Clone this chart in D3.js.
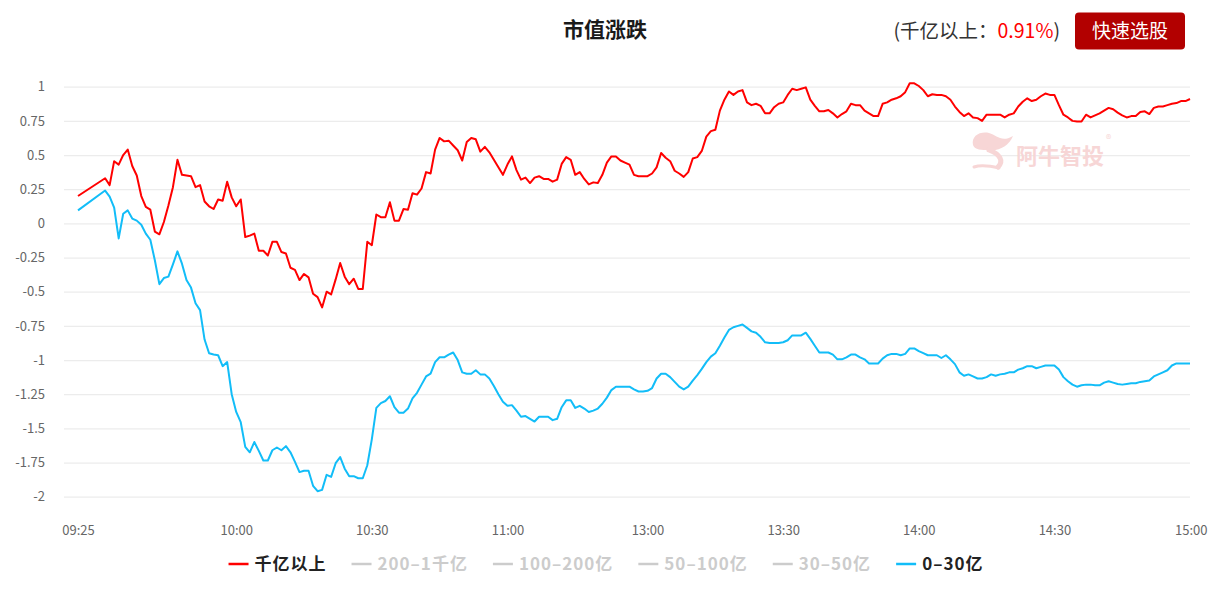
<!DOCTYPE html>
<html><head><meta charset="utf-8">
<script src="https://cdn.jsdelivr.net/npm/d3@7"></script>
<style>
html,body{margin:0;padding:0;background:#fff;}
svg{display:block;font-family:"Microsoft YaHei","Noto Sans CJK SC","Noto Sans",sans-serif;}
</style></head>
<body><svg id="c" width="1208" height="591"></svg>
<script>
// ---------------- DATA ----------------
const title = "市值涨跌";
const headerLabel = "(千亿以上：";
const headerValue = "0.91%";
const buttonText = "快速选股";
const seriesNames = ["千亿以上","200–1千亿","100–200亿","50–100亿","30–50亿","0–30亿"];
const seriesActive = [true,false,false,false,false,true];
const seriesColors = ["#ff0000","#cccccc","#cccccc","#cccccc","#cccccc","#12bdf8"];
const xTickLabels = ["09:25","10:00","10:30","11:00","13:00","13:30","14:00","14:30","15:00"];
const yTicks = [1,0.75,0.5,0.25,0,-0.25,-0.5,-0.75,-1,-1.25,-1.5,-1.75,-2];

const times = [
"09:25",
"09:31","09:32","09:33","09:34","09:35","09:36","09:37","09:38","09:39","09:40",
"09:41","09:42","09:43","09:44","09:45","09:46","09:47","09:48","09:49","09:50",
"09:51","09:52","09:53","09:54","09:55","09:56","09:57","09:58","09:59",
"10:00","10:01","10:02","10:03","10:04","10:05","10:06","10:07","10:08","10:09",
"10:10","10:11","10:12","10:13","10:14","10:15","10:16","10:17","10:18","10:19",
"10:20","10:21","10:22","10:23","10:24","10:25","10:26","10:27","10:28","10:29",
"10:30","10:31","10:32","10:33","10:34","10:35","10:36","10:37","10:38","10:39",
"10:40","10:41","10:42","10:43","10:44","10:45","10:46","10:47","10:48","10:49",
"10:50","10:51","10:52","10:53","10:54","10:55","10:56","10:57","10:58","10:59",
"11:00","11:01","11:02","11:03","11:04","11:05","11:06","11:07","11:08","11:09",
"11:10","11:11","11:12","11:13","11:14","11:15","11:16","11:17","11:18","11:19",
"11:20","11:21","11:22","11:23","11:24","11:25","11:26","11:27","11:28","11:29",
"11:30",
"13:00","13:01","13:02","13:03","13:04","13:05","13:06","13:07","13:08","13:09",
"13:10","13:11","13:12","13:13","13:14","13:15","13:16","13:17","13:18","13:19",
"13:20","13:21","13:22","13:23","13:24","13:25","13:26","13:27","13:28","13:29",
"13:30","13:31","13:32","13:33","13:34","13:35","13:36","13:37","13:38","13:39",
"13:40","13:41","13:42","13:43","13:44","13:45","13:46","13:47","13:48","13:49",
"13:50","13:51","13:52","13:53","13:54","13:55","13:56","13:57","13:58","13:59",
"14:00","14:01","14:02","14:03","14:04","14:05","14:06","14:07","14:08","14:09",
"14:10","14:11","14:12","14:13","14:14","14:15","14:16","14:17","14:18","14:19",
"14:20","14:21","14:22","14:23","14:24","14:25","14:26","14:27","14:28","14:29",
"14:30","14:31","14:32","14:33","14:34","14:35","14:36","14:37","14:38","14:39",
"14:40","14:41","14:42","14:43","14:44","14:45","14:46","14:47","14:48","14:49",
"14:50","14:51","14:52","14:53","14:54","14:55","14:56","14:57","14:58","14:59",
"15:00"
];

// 千亿以上
const bigCap = [
0.20,
0.33,0.28,0.455,0.43,0.50,0.54,0.42,0.35,0.20,0.12,
0.10,-0.06,-0.08,0.01,0.13,0.265,0.465,0.355,0.35,0.345,
0.265,0.28,0.16,0.125,0.105,0.175,0.165,0.305,0.19,
0.125,0.175,-0.10,-0.09,-0.075,-0.20,-0.20,-0.235,-0.135,-0.135,
-0.21,-0.22,-0.325,-0.34,-0.415,-0.37,-0.395,-0.515,-0.54,-0.615,
-0.50,-0.52,-0.41,-0.29,-0.39,-0.445,-0.405,-0.48,-0.48,-0.135,
-0.16,0.065,0.045,0.045,0.155,0.02,0.02,0.105,0.10,0.22,
0.21,0.255,0.375,0.365,0.54,0.625,0.60,0.605,0.57,0.535,
0.46,0.595,0.625,0.615,0.525,0.56,0.52,0.465,0.41,0.355,
0.43,0.49,0.39,0.32,0.335,0.295,0.335,0.345,0.325,0.325,
0.305,0.32,0.435,0.485,0.465,0.355,0.375,0.325,0.285,0.30,
0.295,0.355,0.445,0.49,0.49,0.46,0.445,0.43,0.355,0.345,
0.345,
0.345,0.365,0.41,0.515,0.48,0.455,0.385,0.365,0.34,0.375,
0.475,0.485,0.53,0.635,0.675,0.685,0.825,0.905,0.965,0.94,
0.965,0.975,0.885,0.865,0.875,0.86,0.805,0.805,0.85,0.875,
0.885,0.94,0.985,0.975,0.985,0.995,0.905,0.86,0.82,0.82,
0.83,0.805,0.775,0.80,0.82,0.875,0.865,0.865,0.825,0.805,
0.785,0.785,0.875,0.885,0.905,0.915,0.93,0.96,1.025,1.025,
1.005,0.975,0.93,0.945,0.94,0.94,0.93,0.905,0.855,0.815,
0.785,0.805,0.775,0.77,0.75,0.795,0.795,0.795,0.795,0.775,
0.795,0.805,0.855,0.89,0.915,0.895,0.905,0.93,0.95,0.94,
0.94,0.865,0.795,0.775,0.75,0.745,0.745,0.795,0.775,0.79,
0.805,0.825,0.845,0.835,0.81,0.79,0.775,0.785,0.785,0.815,
0.82,0.80,0.845,0.855,0.855,0.865,0.875,0.88,0.895,0.895,
0.91
];

// 0-30亿
const smallCap = [
0.095,
0.24,0.195,0.115,-0.11,0.07,0.095,0.035,0.02,-0.01,-0.075,
-0.12,-0.27,-0.445,-0.40,-0.39,-0.30,-0.205,-0.295,-0.415,-0.47,
-0.585,-0.635,-0.85,-0.95,-0.96,-0.965,-1.045,-1.015,-1.25,
-1.38,-1.455,-1.635,-1.675,-1.60,-1.665,-1.735,-1.735,-1.66,-1.64,
-1.66,-1.63,-1.675,-1.745,-1.82,-1.81,-1.81,-1.92,-1.96,-1.95,
-1.84,-1.855,-1.755,-1.71,-1.795,-1.85,-1.85,-1.865,-1.865,-1.77,
-1.58,-1.35,-1.315,-1.30,-1.265,-1.345,-1.385,-1.385,-1.355,-1.28,
-1.24,-1.18,-1.12,-1.10,-1.015,-0.98,-0.98,-0.96,-0.945,-1.00,
-1.09,-1.10,-1.10,-1.075,-1.105,-1.105,-1.135,-1.19,-1.25,-1.305,
-1.335,-1.33,-1.37,-1.415,-1.41,-1.43,-1.45,-1.415,-1.415,-1.415,
-1.44,-1.43,-1.345,-1.295,-1.295,-1.35,-1.335,-1.355,-1.38,-1.37,
-1.355,-1.32,-1.275,-1.22,-1.195,-1.195,-1.195,-1.195,-1.215,-1.23,
-1.23,
-1.225,-1.205,-1.135,-1.10,-1.10,-1.125,-1.16,-1.195,-1.215,-1.195,
-1.15,-1.11,-1.065,-1.015,-0.975,-0.95,-0.895,-0.835,-0.78,-0.76,
-0.75,-0.74,-0.765,-0.79,-0.80,-0.83,-0.87,-0.875,-0.875,-0.875,
-0.87,-0.855,-0.82,-0.82,-0.82,-0.80,-0.845,-0.895,-0.945,-0.945,
-0.945,-0.96,-0.995,-0.995,-0.98,-0.96,-0.96,-0.98,-0.995,-1.025,
-1.025,-1.025,-0.99,-0.965,-0.955,-0.955,-0.965,-0.955,-0.915,-0.915,
-0.935,-0.95,-0.965,-0.965,-0.965,-0.985,-0.965,-0.995,-1.03,-1.09,
-1.115,-1.105,-1.12,-1.135,-1.135,-1.125,-1.105,-1.115,-1.105,-1.10,
-1.09,-1.09,-1.07,-1.06,-1.045,-1.045,-1.06,-1.05,-1.04,-1.04,
-1.04,-1.07,-1.125,-1.155,-1.18,-1.195,-1.185,-1.18,-1.18,-1.185,
-1.185,-1.165,-1.155,-1.165,-1.175,-1.18,-1.175,-1.17,-1.17,-1.16,
-1.155,-1.15,-1.12,-1.105,-1.09,-1.075,-1.04,-1.025,-1.025,-1.025,
-1.025
];

// ---------------- CHART ----------------
const svg = d3.select("#c");
const gridLeft = 64, gridRight = 1190;
const FONT = '"Microsoft YaHei","Noto Sans CJK SC",sans-serif';

// trading-minute index: morning 09:25..11:30, afternoon 13:00..15:00
function tIndex(t){
  const [h,m] = t.split(":").map(Number);
  const mins = h*60+m;
  return mins <= 11*60+30 ? mins - (9*60+25) : 126 + mins - 13*60;
}
const x = d3.scaleLinear().domain([0, tIndex("15:00")]).range([78, 1190]);
const y = d3.scaleLinear().domain([-2, 1]).range([496.7, 86.7]);

// y axis + grid
const yAxis = d3.axisLeft(y).tickValues(yTicks)
  .tickSize(-(gridRight - gridLeft)).tickPadding(19)
  .tickFormat(d => String(d));
const gy = svg.append("g").attr("transform", `translate(${gridLeft},0)`).call(yAxis);
gy.select(".domain").remove();
gy.selectAll(".tick line").attr("stroke", "#ececec").attr("stroke-width", 1.2);
gy.selectAll(".tick text").attr("fill", "#666").style("font-size", "13px").style("font-family", FONT);

// x axis
const xAxis = d3.axisBottom(x).tickValues(xTickLabels.map(tIndex))
  .tickSize(0).tickPadding(0).tickFormat((d,i) => xTickLabels[i]);
const gx = svg.append("g").attr("transform", "translate(0,526)").call(xAxis);
gx.select(".domain").remove();
gx.selectAll(".tick text").attr("fill", "#666").style("font-size", "13px").style("font-family", FONT);
gx.selectAll(".tick:last-of-type text").attr("text-anchor", "end").attr("x", 17);

// watermark
const WM = "#f7d6d6";
const wm = svg.append("g").attr("transform", "translate(971,130)");
wm.append("path")
  .attr("d", "M2,15 C0,6 9,1 18,3 C26,5 30,13 42,6 C38,16 28,21 19,20 C10,20 4,20 2,15 Z")
  .attr("fill", WM);
wm.append("path")
  .attr("d", "M18,20 C29,24 33,31 27,37")
  .attr("fill", "none").attr("stroke", WM).attr("stroke-width", 5).attr("stroke-linecap", "round");
wm.append("path")
  .attr("d", "M3,37 C11,34 20,36 28,38")
  .attr("fill", "none").attr("stroke", WM).attr("stroke-width", 3).attr("stroke-linecap", "round");
svg.append("text").attr("x", 1016).attr("y", 164).text("阿牛智投")
  .attr("fill", WM).style("font-size", "22px").style("font-weight", "bold");
svg.append("text").attr("x", 1106).attr("y", 143).text("®")
  .attr("fill", WM).style("font-size", "11px");

// lines
const line = d3.line().x((d,i) => x(tIndex(times[i]))).y(d => y(d));
svg.append("path").datum(smallCap).attr("d", line)
  .attr("fill", "none").attr("stroke", seriesColors[5]).attr("stroke-width", 2)
  .attr("stroke-linejoin", "round");
svg.append("path").datum(bigCap).attr("d", line)
  .attr("fill", "none").attr("stroke", seriesColors[0]).attr("stroke-width", 2)
  .attr("stroke-linejoin", "round");

// title
svg.append("text").attr("x", 605).attr("y", 37).attr("text-anchor", "middle")
  .text(title).attr("fill", "#1a1a1a").style("font-size", "21px").style("font-weight", "bold");

// header value
const hv = svg.append("text").attr("x", 1060).attr("y", 38).attr("text-anchor", "end")
  .style("font-size", "19.5px").attr("fill", "#333");
hv.append("tspan").text(headerLabel);
hv.append("tspan").text(headerValue).attr("fill", "#ff0000");
hv.append("tspan").text(")");

// button
svg.append("rect").attr("x", 1075).attr("y", 12.5).attr("width", 110).attr("height", 37)
  .attr("rx", 4).attr("fill", "#b20000");
svg.append("text").attr("x", 1130).attr("y", 38).attr("text-anchor", "middle")
  .text(buttonText).attr("fill", "#fff").style("font-size", "19px");

// legend
const lg = svg.append("g");
let cx = 0;
seriesNames.forEach((name, i) => {
  const g = lg.append("g").attr("transform", `translate(${cx},0)`);
  g.append("line").attr("x1", 0).attr("x2", 20).attr("y1", 0).attr("y2", 0)
    .attr("stroke", seriesActive[i] ? seriesColors[i] : "#cccccc").attr("stroke-width", 2.5);
  const t = g.append("text").attr("x", 26).attr("y", 0).attr("dy", "0.35em").text(name)
    .attr("fill", seriesActive[i] ? "#222" : "#cccccc")
    .style("font-size", "17px").style("font-weight", "bold").style("letter-spacing", "1px");
  const w = t.node().getComputedTextLength();
  cx += 26 + w + 25;
});
const totalW = cx - 25;
lg.attr("transform", `translate(${606 - totalW/2},564)`);
</script>
</body></html>
